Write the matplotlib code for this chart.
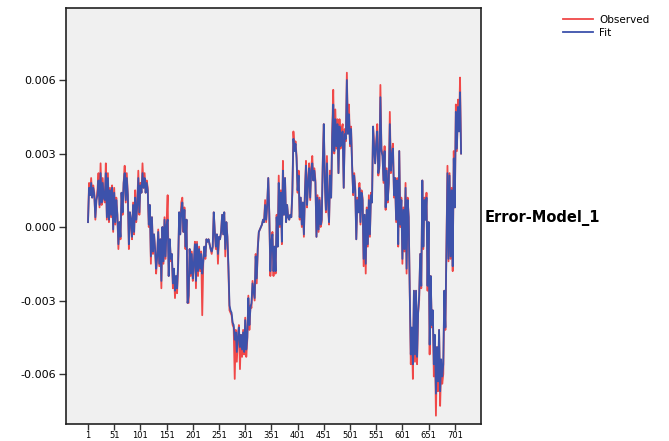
import numpy as np
import matplotlib
matplotlib.use("Agg")
import matplotlib.pyplot as plt

plt.rcParams['font.family'] = ['DejaVu Sans']

# observation index step used for sampled values
obs_step = 2
obs_start = 1

# values in units of 0.001
observed_milli = [
    0.2, 1.8, 1.3, 2.0, 1.2, 1.7, 1.4, 0.3, 1.1, 1.5, 2.2, 0.8,
    2.6, 0.9, 2.0, 1.2, 1.0, 2.6, 0.3, 2.2, 0.2, 1.6, 0.4, 1.7, -0.2,
    1.6, 0.1, 1.2, 0.5, -0.9, 0.2, -0.5, 1.4, 0.5, 1.8, 2.5, 1.0, 2.2,
    1.3, -0.9, 0.6, 0.2, -0.5, 1.0, -0.3, 1.5, 0.2, 0.9, 2.3, 0.5, 1.8,
    1.4, 2.6, 1.6, 2.2, 1.4, 1.9, 1.6, 0.0, 0.9, -1.5, 0.4, -1.1, -0.3,
    -0.9, -1.9, -1.2, -0.1, -1.6, -0.5, -2.5, 0.0, -1.5, 0.4, -1.3, 0.2,
    1.3, -2.0, -0.5, -1.4, -1.1, -2.5, -1.8, -2.9, -2.0, -2.7, -1.6, 0.6, -0.3,
    1.0, 1.2, -0.2, 0.8, -0.9, 0.3, -3.1, -3.1, -0.9, -2.0, -1.0, -2.2, -1.5,
    -0.6, -2.5, -0.6, -2.0, -0.8, -1.8, -1.0, -3.6, -1.4, -0.8, -1.3, -0.5, -0.6,
    -0.5, -0.7, -0.9, -1.1, -0.8, 0.6, -0.2, -0.9, -0.3, -1.5, -0.4, -0.5, -0.2,
    0.5, -0.3, 0.6, -1.2, 0.2, -0.4, -1.8, -3.4, -3.5, -3.6, -4.0, -4.1,
    -6.2, -4.2, -5.5, -4.5, -4.0, -5.8, -4.4, -5.3, -4.2, -5.2, -3.7, -5.3, -4.6,
    -2.8, -4.2, -3.2, -3.3, -2.2, -2.6, -3.0, -1.1, -2.3, -0.8, -0.2, -0.1, 0.0,
    0.1, 0.3, 0.2, 1.1, 0.2, 0.9, 2.0, 0.5, -2.0, -0.6, -0.2, -2.0, -0.8,
    # second half
    -1.9, 0.5, -0.8, 2.1, 0.0, 1.5, -0.7, 2.7, 0.5, 2.0, 0.2, 0.9,
    0.4, 0.3, 0.5, 0.4, 1.5, 3.9, 3.2, 3.5, 2.9, 1.4, 2.3, 0.3, 1.2,
    0.0, 1.0, -0.4, 1.5, 2.7, 0.8, 1.9, 2.6, 1.1, 2.4, 2.9, 1.9, 2.4,
    1.9, -0.4, 1.3, -0.2, 1.2, 0.0, 0.2, 2.7, 4.2, 1.8, 0.6, 2.9, 1.0,
    0.1, 2.3, 1.2, 3.9, 5.6, 3.0, 4.8, 3.2, 4.4, 2.2, 4.4, 3.2, 4.0,
    4.2, 1.6, 4.0, 3.5, 6.3, 3.9, 5.0, 3.3, 4.1, 2.6, 1.3, 2.2,
    1.6, -0.5, 1.2, 0.6, 1.8, 0.1, 1.5, 1.2, -1.6, 0.5, -1.9, 0.8, -0.8,
    1.3, -0.4, 1.4, 1.0, 4.1, 3.4, 2.6, 3.5, 4.2, 2.1, 2.4, 5.8, 3.2,
    3.0, 1.8, 3.3, 0.7, 2.4, 1.0, 1.8, 4.7, 2.2, 3.0, 3.4, 1.2, 2.0,
    0.2, 2.0, -0.8, 3.1, 0.0, 1.2, -1.5, 0.8, -1.0, 1.8, -1.9, 1.2, 0.4,
    -2.6, -5.6, -4.2, -6.2, -2.6, -5.5, -2.6, -5.6, -3.5, -3.0, -1.1, -2.5,
    1.9, -0.9, 1.2, 0.3, 1.4, -2.6, 0.2, -5.2, -2.0, -4.1, -3.4, -6.1, -4.5,
    -7.7, -4.9, -6.7, -4.2, -7.3, -5.6, -6.4, -6.0, -2.6, -4.2, -1.0, 2.5, -1.4,
    2.2, -1.3, 1.6, -1.8, 3.1, 0.8, 5.0, 3.1, 5.2, 4.0, 6.1, 3.0,
]

fit_milli = [
    0.2, 1.6, 1.3, 1.8, 1.2, 1.6, 1.3, 0.4, 1.1, 1.3, 1.9, 0.9,
    2.2, 1.0, 1.8, 1.2, 1.1, 2.2, 0.4, 2.0, 0.3, 1.5, 0.5, 1.6, -0.1,
    1.4, 0.2, 1.1, 0.5, -0.7, 0.2, -0.4, 1.4, 0.6, 1.8, 2.2, 1.1, 2.0,
    1.3, -0.7, 0.6, 0.3, -0.4, 0.9, -0.2, 1.2, 0.3, 0.9, 2.0, 0.6, 1.7,
    1.4, 2.2, 1.6, 2.0, 1.4, 1.8, 1.5, 0.1, 0.9, -1.2, 0.4, -1.0, -0.3,
    -0.9, -1.7, -1.2, -0.2, -1.5, -0.5, -2.2, 0.0, -1.4, 0.3, -1.2, 0.1,
    0.3, -2.0, -0.5, -1.3, -1.1, -2.3, -1.7, -2.6, -2.0, -2.5, -1.5, 0.6, -0.3,
    0.7, 1.0, -0.2, 0.7, -0.8, 0.3, -3.1, -2.8, -0.9, -1.9, -1.1, -2.1, -1.5,
    -0.7, -2.2, -0.7, -1.8, -0.9, -1.7, -1.1, -1.9, -1.4, -0.8, -1.2, -0.5, -0.6,
    -0.5, -0.7, -0.9, -1.0, -0.8, 0.6, -0.2, -0.8, -0.3, -1.1, -0.4, -0.5, -0.2,
    0.5, -0.3, 0.6, -0.9, 0.2, -0.4, -1.6, -3.2, -3.4, -3.5, -3.9, -4.0,
    -4.6, -4.3, -5.1, -4.5, -4.1, -4.9, -4.4, -5.0, -4.3, -5.1, -3.8, -5.0, -4.5,
    -2.9, -4.0, -3.3, -3.1, -2.3, -2.6, -2.9, -1.2, -2.1, -0.9, -0.2, -0.1, 0.0,
    0.1, 0.3, 0.2, 0.9, 0.3, 0.9, 2.0, 0.5, -1.8, -0.6, -0.3, -1.8, -0.8,
    # second half
    -1.8, 0.4, -0.8, 1.8, 0.1, 1.4, -0.6, 2.3, 0.5, 2.0, 0.2, 0.9,
    0.4, 0.3, 0.5, 0.4, 1.4, 3.6, 3.1, 3.4, 2.8, 1.5, 2.1, 0.4, 1.2,
    0.1, 1.0, -0.3, 1.4, 2.5, 0.9, 1.8, 2.4, 1.2, 2.3, 2.6, 1.9, 2.3,
    1.8, -0.4, 1.2, -0.1, 1.1, 0.1, 0.3, 2.5, 4.2, 1.8, 0.7, 2.6, 1.1,
    0.2, 2.1, 1.2, 3.7, 5.0, 3.1, 4.4, 3.3, 4.2, 2.2, 4.1, 3.3, 3.8,
    3.9, 1.6, 3.8, 3.6, 6.0, 3.8, 4.6, 3.4, 4.0, 2.5, 1.4, 2.1,
    1.5, -0.5, 1.1, 0.6, 1.6, 0.2, 1.4, 1.1, -1.3, 0.5, -1.5, 0.7, -0.7,
    1.1, -0.3, 1.3, 1.0, 4.1, 3.2, 2.6, 3.4, 3.9, 2.2, 2.5, 5.3, 3.1,
    2.9, 1.9, 3.1, 0.8, 2.3, 1.1, 1.8, 4.2, 2.3, 2.9, 3.2, 1.3, 2.0,
    0.3, 1.9, -0.7, 3.1, 0.1, 1.1, -1.3, 0.7, -0.9, 1.6, -1.7, 1.1, 0.4,
    -2.6, -5.2, -4.1, -5.6, -2.6, -5.2, -2.6, -5.3, -3.5, -2.8, -1.1, -2.4,
    1.9, -0.8, 1.1, 0.3, 1.2, -2.4, 0.2, -4.8, -2.0, -4.0, -3.4, -5.6, -4.4,
    -6.8, -4.9, -6.3, -4.2, -6.7, -5.4, -6.1, -5.6, -2.6, -4.1, -1.0, 2.2, -1.3,
    2.1, -1.2, 1.5, -1.6, 2.8, 0.8, 4.7, 3.2, 4.9, 3.9, 5.5, 3.0,
]

x_ticks = [1, 51, 101, 151, 201, 251, 301, 351, 401, 451, 501, 551, 601, 651, 701]
y_ticks = [0.006, 0.003, 0.000, -0.003, -0.006]
y_tick_labels = ["0.006", "0.003", "0.000", "-0.003", "-0.006"]
series_names = ["Observed", "Fit"]
side_label = "Error-Model_1"

observed = np.array(observed_milli) / 1000.0
fit = np.array(fit_milli) / 1000.0
n = min(len(observed), len(fit))
obs_index = obs_start + obs_step * np.arange(n)

fig = plt.figure(figsize=(6.69, 4.41), dpi=100)
ax = fig.add_axes([66 / 669, 17 / 441, (481 - 66) / 669, (424 - 8) / 441])
ax.set_facecolor('#f0f0f0')

red = '#f04848'
blue = '#3d52ab'
l1, = ax.plot(obs_index, observed[:n], color=red, lw=1.3)
l2, = ax.plot(obs_index, fit[:n], color=blue, lw=1.3)

ax.set_xlim(-41, 751)
ax.set_ylim(-0.00804, 0.00894)
ax.set_xticks(x_ticks)
ax.set_xticklabels([str(t) for t in x_ticks], fontsize=6)
ax.set_yticks(y_ticks)
ax.set_yticklabels(y_tick_labels, fontsize=8)
ax.tick_params(axis='y', direction='out', length=5, width=1, color='#333333', pad=2)
ax.tick_params(axis='x', direction='out', length=4, width=1, color='#333333', pad=1)
for s in ax.spines.values():
    s.set_linewidth(1.2)
    s.set_color('#222222')

fig.legend([l1, l2], series_names, loc='upper left', bbox_to_anchor=(563 / 669, 1 - 15 / 441),
           frameon=False, fontsize=7.5, handlelength=2.9, handletextpad=0.6,
           labelspacing=0.3, borderaxespad=0, borderpad=0)

fig.text(485 / 669, 1 - 218 / 441, side_label, fontsize=10.5, fontweight='bold',
         ha='left', va='center')

fig.savefig('out.png', dpi=100, facecolor='white')
